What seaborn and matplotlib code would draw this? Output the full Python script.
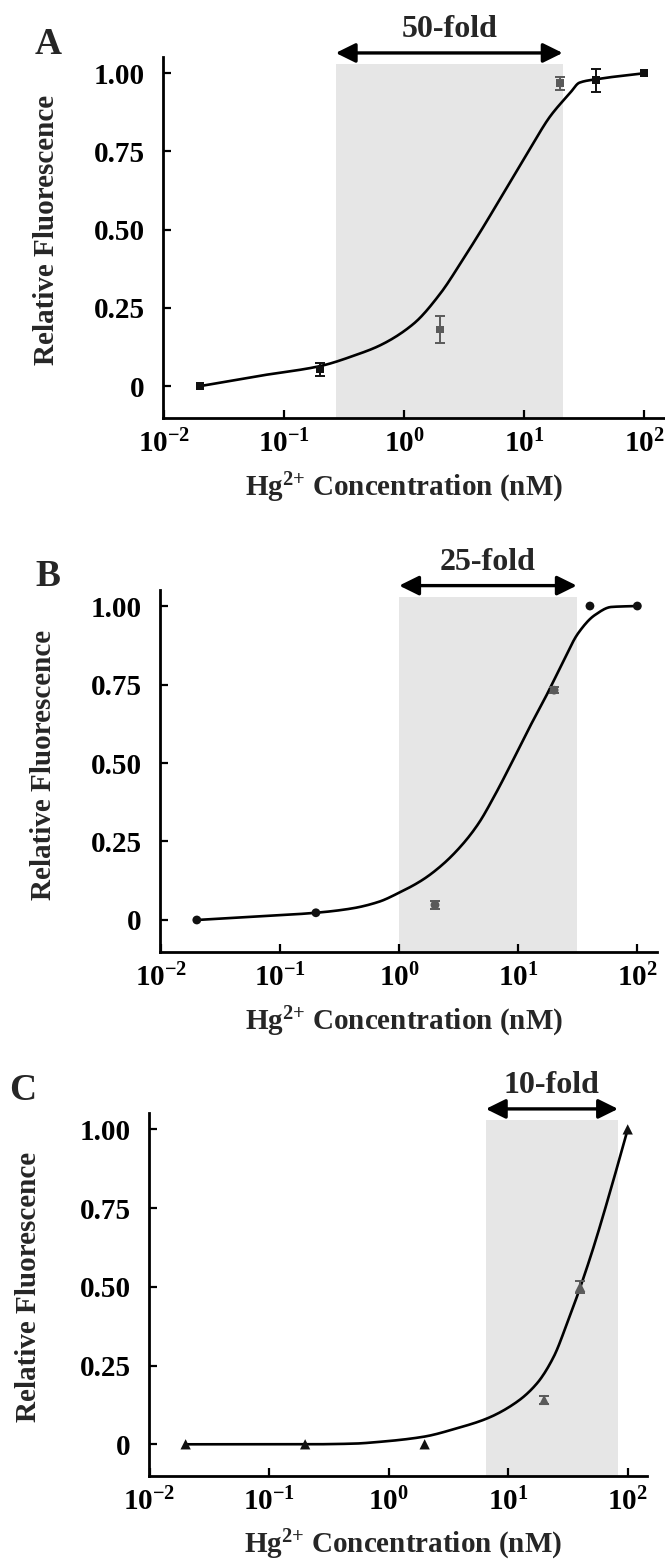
import numpy as np
import pandas as pd
import matplotlib
matplotlib.use("Agg")
import matplotlib.pyplot as plt
from matplotlib.ticker import FixedLocator, FixedFormatter, NullLocator
import seaborn as sns

sns.set_theme(style="white")
plt.rcParams['font.family'] = ['Liberation Serif', 'DejaVu Serif']
plt.rcParams['font.weight'] = 'bold'
plt.rcParams['mathtext.fontset'] = 'custom'
plt.rcParams['mathtext.rm'] = 'Liberation Serif:bold'
plt.rcParams['mathtext.it'] = 'Liberation Serif:italic:bold'
plt.rcParams['mathtext.bf'] = 'Liberation Serif:bold'
plt.rcParams['mathtext.default'] = 'rm'

# ---------------- data ----------------
conc = [0.02, 0.2, 2, 20, 40, 100]          # Hg2+ concentration (nM)

a_y = [0.0, 0.053, 0.181, 0.968, 0.978, 1.0]
a_err = [0.0, 0.02, 0.043, 0.02, 0.037, 0.0]
a_grey = [False, False, True, True, False, False]

b_y = [0.0, 0.023, 0.048, 0.732, 1.0, 1.0]
b_err = [0.0, 0.0, 0.012, 0.01, 0.0, 0.0]
b_grey = [False, False, True, True, False, False]

c_y = [0.0, 0.0, 0.0, 0.141, 0.50, 1.0]
c_err = [0.0, 0.0, 0.0, 0.012, 0.02, 0.0]
c_grey = [False, False, False, True, True, False]

# fitted curves
a_curve_x = [0.02, 0.063, 0.2, 0.4, 0.63, 1.2, 2.0, 3.1, 4.6, 6.7, 8.7, 12.0, 16.5, 24.2, 29.0, 40.0, 100]
a_curve_y = [0.0, 0.033, 0.064, 0.100, 0.130, 0.199, 0.295, 0.405, 0.51, 0.615, 0.688, 0.778, 0.862, 0.937, 0.970, 0.981, 1.0]

b_curve_x = [0.02, 0.071, 0.2, 0.404, 0.676, 1.0, 1.56, 2.29, 3.37, 4.65, 6.41, 8.79, 12.1, 16.7, 23.1, 31.8, 43.9, 60.5, 100]
b_curve_y = [0.0, 0.012, 0.023, 0.037, 0.058, 0.087, 0.127, 0.175, 0.239, 0.308, 0.40, 0.50, 0.605, 0.705, 0.812, 0.913, 0.971, 0.997, 1.0]

c_curve_x = [0.02, 0.2, 0.5, 0.853, 1.96, 3.73, 6.65, 11.86, 17.46, 24.04, 31.1, 40.2, 51.9, 71.6, 100]
c_curve_y = [0.0, 0.0, 0.002, 0.008, 0.024, 0.051, 0.082, 0.135, 0.194, 0.278, 0.384, 0.50, 0.627, 0.805, 1.0]

# linear ranges (shaded) and their labels
a_range = [0.27, 21]
b_range = [1.0, 31]
c_range = [6.5, 83]
fold_labels = ['50-fold', '25-fold', '10-fold']
panel_letters = ['A', 'B', 'C']

y_ticks = [0, 0.25, 0.50, 0.75, 1.00]
y_tick_labels = ['0', '0.25', '0.50', '0.75', '1.00']
x_ticks = [1e-2, 1e-1, 1e0, 1e1, 1e2]
x_tick_labels = [r'$10^{-2}$', r'$10^{-1}$', r'$10^{0}$', r'$10^{1}$', r'$10^{2}$']


def smooth_line(xs, ys, n=400):
    """Monotone cubic (Fritsch-Carlson) drawing of a read curve, in log-x space."""
    lx = np.log10(np.asarray(xs, float))
    y = np.asarray(ys, float)
    h = np.diff(lx)
    d = np.diff(y) / h
    m = np.zeros_like(y)
    m[0], m[-1] = d[0], d[-1]
    for k in range(1, len(y) - 1):
        if d[k - 1] * d[k] <= 0:
            m[k] = 0.0
        else:
            w1 = 2 * h[k] + h[k - 1]
            w2 = h[k] + 2 * h[k - 1]
            m[k] = (w1 + w2) / (w1 / d[k - 1] + w2 / d[k])
    xq = np.linspace(lx[0], lx[-1], n)
    idx = np.clip(np.searchsorted(lx, xq) - 1, 0, len(h) - 1)
    t = (xq - lx[idx]) / h[idx]
    h00 = 2 * t**3 - 3 * t**2 + 1
    h10 = t**3 - 2 * t**2 + t
    h01 = -2 * t**3 + 3 * t**2
    h11 = t**3 - t**2
    yq = (h00 * y[idx] + h10 * h[idx] * m[idx] + h01 * y[idx + 1]
          + h11 * h[idx] * m[idx + 1])
    return 10 ** xq, yq


# ---------------- layout ----------------
W, H = 665, 1564
fig = plt.figure(figsize=(W / 100, H / 100), dpi=100)

panels = [
    dict(rect=[163, 56.7, 665, 417.7], xlim=(-2.008, 2.175), ylim=(-0.101, 1.053),
         y=a_y, err=a_err, grey=a_grey, cx=a_curve_x, cy=a_curve_y, rng=a_range,
         marker='s', s=30, letter=(48, 45), ylab=(-0.233, 0.52), xlab=(0.48, -0.195)),
    dict(rect=[160, 590, 657, 951.7], xlim=(-2.008, 2.165), ylim=(-0.101, 1.051),
         y=b_y, err=b_err, grey=b_grey, cx=b_curve_x, cy=b_curve_y, rng=b_range,
         marker='o', s=40, letter=(48, 577), ylab=(-0.234, 0.516), xlab=(0.49, -0.194)),
    dict(rect=[148.7, 1113, 646.7, 1475.7], xlim=(-2.008, 2.159), ylim=(-0.0997, 1.052),
         y=c_y, err=c_err, grey=c_grey, cx=c_curve_x, cy=c_curve_y, rng=c_range,
         marker='^', s=55, letter=(23, 1091), ylab=(-0.241, 0.52), xlab=(0.51, -0.191)),
]

BLACK = '#111111'
GREY = '#5a5a5a'

for i, p in enumerate(panels):
    l, t, r, b = p['rect']
    ax = fig.add_axes([l / W, 1 - b / H, (r - l) / W, (b - t) / H])
    ax.set_xscale('log')
    ax.set_xlim(10 ** p['xlim'][0], 10 ** p['xlim'][1])
    ax.set_ylim(*p['ylim'])

    # shaded linear range
    ax.fill_between(p['rng'], p['ylim'][0], 1.03, color='#e6e6e6', lw=0, zorder=0)

    # fitted curve (smooth drawing through the read points)
    sx, sy = smooth_line(p['cx'], p['cy'])
    sns.lineplot(x=sx, y=sy, ax=ax, color='black', lw=1.9,
                 sort=False, estimator=None, zorder=3)

    df = pd.DataFrame({'conc': conc, 'val': p['y'], 'err': p['err'],
                       'grp': ['grey' if g else 'black' for g in p['grey']]})
    for grp, col in [('black', BLACK), ('grey', GREY)]:
        sub = df[(df.grp == grp) & (df.err > 0)]
        if len(sub):
            ax.errorbar(sub.conc, sub.val, yerr=sub.err, fmt='none', ecolor=col,
                        elinewidth=1.4, capsize=3.5, capthick=1.4, zorder=4)
    sns.scatterplot(data=df, x='conc', y='val', hue='grp',
                    palette={'black': BLACK, 'grey': GREY}, marker=p['marker'],
                    s=p['s'], linewidth=0, legend=False, ax=ax, zorder=5)

    # double-headed arrow + fold label
    x0, x1 = p['rng']
    ax.annotate('', xy=(x1, 1.065), xytext=(x0, 1.065), xycoords='data',
                arrowprops=dict(arrowstyle='<|-|>,head_length=0.85,head_width=0.42',
                                lw=2.4, color='black', shrinkA=0, shrinkB=0,
                                mutation_scale=14),
                annotation_clip=False)
    ax.text(np.sqrt(x0 * x1), 1.14, fold_labels[i], ha='center', va='center',
            fontsize=23, fontweight='bold', clip_on=False)

    # axes styling
    for s in ['top', 'right']:
        ax.spines[s].set_visible(False)
    for s in ['left', 'bottom']:
        ax.spines[s].set_linewidth(2.0)
        ax.spines[s].set_color('black')
    ax.xaxis.set_major_locator(FixedLocator(x_ticks))
    ax.xaxis.set_major_formatter(FixedFormatter(x_tick_labels))
    ax.xaxis.set_minor_locator(NullLocator())
    ax.yaxis.set_major_locator(FixedLocator(y_ticks))
    ax.yaxis.set_major_formatter(FixedFormatter(y_tick_labels))
    ax.tick_params(axis='both', which='major', direction='in', length=6, width=1.6,
                   colors='black', labelsize=21)
    ax.tick_params(axis='y', pad=13, left=True)
    ax.tick_params(axis='x', pad=9, bottom=True)
    for lab in ax.get_xticklabels() + ax.get_yticklabels():
        lab.set_fontweight('bold')

    ax.set_ylabel('Relative Fluorescence', fontsize=21, fontweight='bold')
    ax.yaxis.label.set_verticalalignment('center')
    ax.yaxis.set_label_coords(*p['ylab'])
    ax.set_xlabel(r'Hg$^{2{+}}$ Concentration (nM)', fontsize=21, fontweight='bold')
    ax.xaxis.label.set_verticalalignment('center')
    ax.xaxis.set_label_coords(*p['xlab'])
    ax.set_facecolor('white')
    ax.grid(False)

    lx, ly = p['letter']
    fig.text(lx / W, 1 - ly / H, panel_letters[i], fontsize=27, fontweight='bold',
             ha='center', va='center')

fig.savefig('out.png', dpi=100, facecolor='white')
